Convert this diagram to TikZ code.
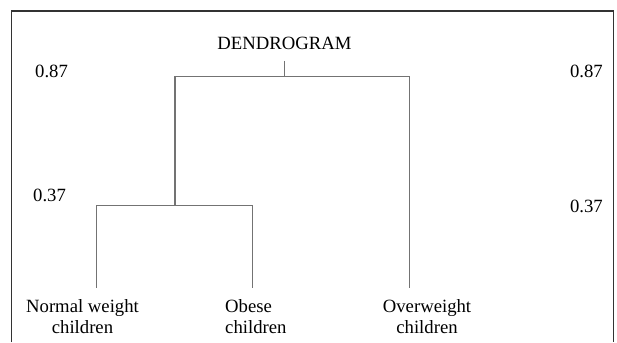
\documentclass[tikz,border=0pt]{standalone}
\usepackage{fontspec}
\setmainfont{Liberation Serif}
\usetikzlibrary{calc}

\begin{document}
\begin{tikzpicture}[x=1pt,y=-1pt,
	branch/.style={draw=black!55, line width=1.2pt},
	frame/.style={draw=black!80, line width=1.5pt},
	txt/.style={inner sep=0pt, font=\fontsize{18.7}{21.5}\selectfont}]
	\useasboundingbox (0,0) rectangle (617,342);
	
	% frame, open at the bottom
	\draw[frame] (11.7,342) -- (11.7,11) -- (613.7,11) -- (613.7,342);
	
	\node[txt, anchor=base] (title) at (284.5,49.5) {DENDROGRAM};
	
	% heights
	\def\hA{76.5} % height 0.87
	\def\hB{205.7} % height 0.37
	\def\hL{287.7} % end of the leaves
	
	% distance labels
	\node[txt, anchor=base west] (dL1) at (35,77.7) {0.87};
	\node[txt, anchor=base west] (dL2) at (33,201) {0.37};
	\node[txt, anchor=base east] (dR1) at (603,77.7) {0.87};
	\node[txt, anchor=base east] (dR2) at (603,212.3) {0.37};
	
	% root
	\coordinate (top) at (284.7,61);
	\coordinate (root) at (284.7,\hA);
	\coordinate (rootL) at (175,\hA);
	\coordinate (rootR) at (409.5,\hA);
	
	% first cluster
	\coordinate (sub) at (175,\hB);
	\coordinate (subL) at (96.7,\hB);
	\coordinate (subR) at (252.7,\hB);
	
	% leaves
	\coordinate (leafA) at (96.7,\hL);
	\coordinate (leafB) at (252.7,\hL);
	\coordinate (leafC) at (409.5,\hL);
	
	\draw[branch] (top) -- (root);
	\draw[branch] (leafA) -- (subL) -- (subR) -- (leafB);
	\draw[branch] (sub) -- (rootL) -- (rootR) -- (leafC);
	
	% leaf names
	\node[txt, anchor=north, align=center] (normal) at (82.5,299) {Normal weight\\children};
	\node[txt, anchor=north west, align=left] (obese) at (225,299) {Obese\\children};
	\node[txt, anchor=north, align=center] (over) at (427,299) {Overweight\\children};
\end{tikzpicture}
\end{document}
